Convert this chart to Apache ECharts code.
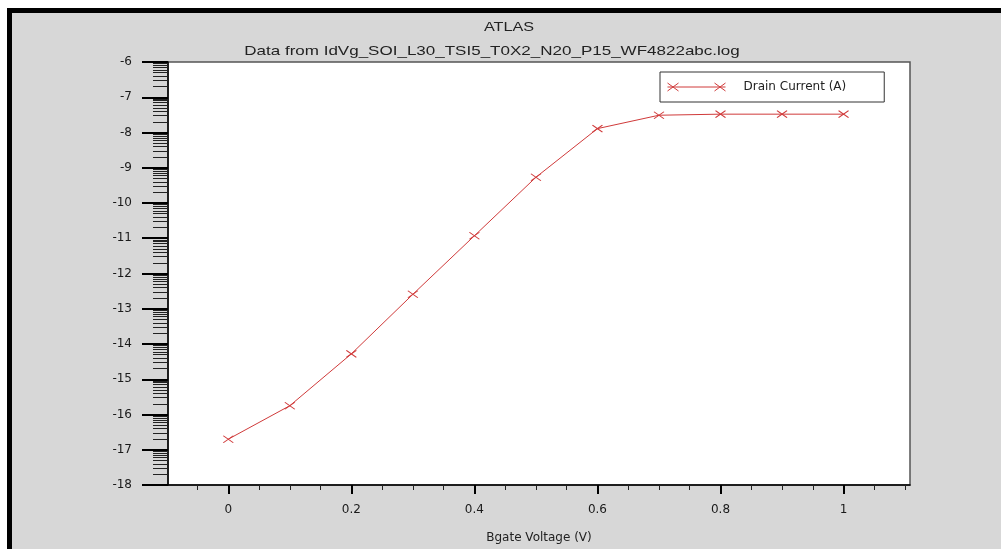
<!DOCTYPE html>
<html>
<head>
<meta charset="utf-8">
<script src="https://cdn.jsdelivr.net/npm/echarts@6/dist/echarts.min.js"></script>
<style>
    body { margin: 0; background: #fff; }
    #frame {
        position: absolute; left: 7px; top: 8px; width: 989px; height: 536px;
        border-top: 5px solid #000; border-left: 5px solid #000; background: #d7d7d7;
    }
    #chart { position: absolute; left: 0; top: 0; width: 1001px; height: 549px; }
</style>
</head>
<body>
<div id="frame"></div>
<div id="chart"></div>
<script>
// Bgate voltage (V) and log10 of drain current (A)
const vgate = [0, 0.1, 0.2, 0.3, 0.4, 0.5, 0.6, 0.7, 0.8, 0.9, 1.0]
const logDrain = [-16.70, -15.75, -14.28, -12.59, -10.93, -9.27, -7.89, -7.51, -7.48, -7.48, -7.48]

const xLabels = [0, 0.2, 0.4, 0.6, 0.8, 1]
const decadeSteps = [2, 3, 4, 5, 6, 7, 8, 9]

const seriesName = 'Drain Current (A)'
const red = '#d03a3a'
const font = 'DejaVu Sans'

// minor ticks: every 0.05 V on x, log-decade ticks on y
let xMinor = []
for (let i = -1; i <= 22; i++) {
    if (i % 4 !== 0) xMinor.push(Math.round(i * 5) / 100)
}
let yMinor = []
for (let d = -18; d < -6; d++) {
    for (const k of decadeSteps) yMinor.push(d + Math.log10(k))
}

let points = []
for (let i = 0; i < vgate.length; i++) {
    points.push([vgate[i], logDrain[i]])
}

const chart = echarts.init(document.getElementById('chart'))

const xRange = { min: -0.098, max: 1.108 }
const yRange = { min: -18, max: -6 }

let option = {
    animation: false,
    graphic: [
        {
            type: 'text', x: 509, y: 27, scaleX: 1.2,
            style: { text: 'ATLAS', font: '13.5px "Liberation Sans"', fill: '#222', align: 'center', verticalAlign: 'middle' }
        },
        {
            type: 'text', x: 492, y: 51, scaleX: 1.26,
            style: { text: 'Data from IdVg_SOI_L30_TSI5_T0X2_N20_P15_WF4822abc.log', font: '13.5px "Liberation Sans"', fill: '#222', align: 'center', verticalAlign: 'middle' }
        }
    ],
    grid: {
        left: 168,
        top: 62,
        width: 742,
        height: 427,
        show: true,
        backgroundColor: '#fff',
        borderColor: '#555',
        borderWidth: 1.5
    },
    legend: {
        data: [seriesName],
        left: 660,
        top: 72,
        selectedMode: false,
        backgroundColor: '#fff',
        borderColor: '#333',
        borderWidth: 1,
        borderRadius: 0,
        padding: [9, 38, 9, 7],
        icon: 'path://M0,4L58,4M0,0L11,8M0,8L11,0M47,0L58,8M47,8L58,0',
        itemWidth: 58,
        itemHeight: 8,
        itemStyle: { color: 'transparent', borderColor: red, borderWidth: 1 },
        textStyle: { fontFamily: font, fontSize: 12, color: '#222', padding: [0, 0, 0, 13] }
    },
    xAxis: [
        {
            type: 'value',
            ...xRange,
            position: 'bottom',
            name: 'Bgate Voltage (V)',
            nameLocation: 'middle',
            nameGap: 47,
            nameTextStyle: { fontFamily: font, fontSize: 12, color: '#222', verticalAlign: 'top' },
            axisLine: { show: true, onZero: false, lineStyle: { color: '#000', width: 1.5 } },
            axisTick: { show: true, customValues: xLabels, length: 9, lineStyle: { color: '#000', width: 2 } },
            axisLabel: { customValues: xLabels, margin: 19, fontFamily: font, fontSize: 12, color: '#1a1a1a' },
            splitLine: { show: false }
        },
        {
            type: 'value',
            ...xRange,
            position: 'bottom',
            axisLine: { show: false, onZero: false },
            axisTick: { show: true, customValues: xMinor, length: 5, lineStyle: { color: '#222', width: 1 } },
            axisLabel: { show: false },
            splitLine: { show: false }
        }
    ],
    yAxis: [
        {
            type: 'value',
            ...yRange,
            interval: 1,
            position: 'left',
            axisLine: { show: true, onZero: false, lineStyle: { color: '#000', width: 1.5 } },
            axisTick: { show: true, length: 26, lineStyle: { color: '#000', width: 2 } },
            axisLabel: { margin: 36, fontFamily: font, fontSize: 12, color: '#1a1a1a' },
            splitLine: { show: false }
        },
        {
            type: 'value',
            ...yRange,
            position: 'left',
            axisLine: { show: false, onZero: false },
            axisTick: { show: true, customValues: yMinor, length: 15, lineStyle: { color: '#222', width: 1 } },
            axisLabel: { show: false },
            splitLine: { show: false }
        }
    ],
    series: [
        {
            name: seriesName,
            type: 'line',
            xAxisIndex: 0,
            yAxisIndex: 0,
            data: points,
            symbol: 'path://M0,0L10,10M0,10L10,0',
            symbolSize: [10, 7],
            itemStyle: { color: red, borderColor: red, borderWidth: 1 },
            lineStyle: { color: red, width: 1 },
            emphasis: { disabled: true }
        }
    ]
}

chart.setOption(option)
</script>
</body>
</html>
